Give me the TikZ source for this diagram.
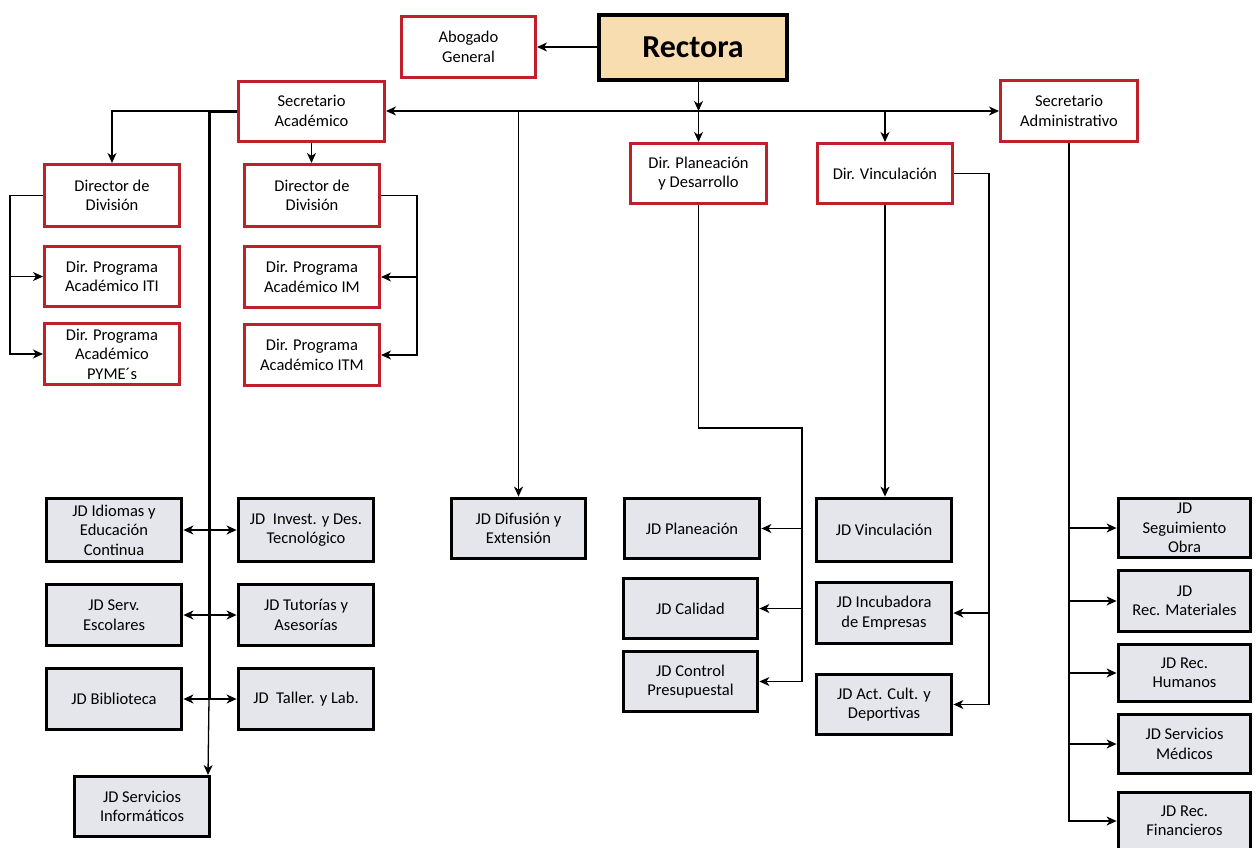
\documentclass[tikz,border=0pt]{standalone}
\usepackage{fontspec}
\setmainfont{Carlito}
\usetikzlibrary{arrows.meta}
\definecolor{redc}{HTML}{C0202C}
\definecolor{beige}{HTML}{F8DDB0}
\definecolor{grayc}{HTML}{E4E6EC}
\tikzset{
  base/.style={align=center, inner sep=1pt, font=\fontsize{16.5}{19.5}\selectfont},
  redbox/.style={base, draw=redc, line width=3pt, fill=white},
  jdbox/.style={base, draw=black, line width=3.8pt, fill=grayc},
  topbox/.style={draw=black, line width=4pt, fill=beige, font=\fontsize{32}{36}\selectfont\bfseries},
  conn/.style={line width=1.3pt, -{Stealth[length=10pt,width=9pt,inset=3pt]}},
  connb/.style={line width=1.3pt, {Stealth[length=10pt,width=9pt,inset=3pt]}-{Stealth[length=10pt,width=9pt,inset=3pt]}},
  spine/.style={line width=3pt},
}
\begin{document}
\begin{tikzpicture}[x=1pt,y=-1pt]
\useasboundingbox (0,0) rectangle (1256,847);
% top
\node[topbox, minimum width=188, minimum height=65] (rect) at (693,47) {Rectora};
\node[redbox, minimum width=134, minimum height=61] (abog) at (468.5,47) {Abogado\\General};
\node[redbox, minimum width=146, minimum height=60] (secacad) at (311.5,111) {Secretario\\Académico};
\node[redbox, minimum width=137, minimum height=61] (secadm) at (1069,111) {Secretario\\Administrativo};
\node[redbox, minimum width=136, minimum height=60] (dirplan) at (698.5,173.5) {Dir. Planeación\\y Desarrollo};
\node[redbox, minimum width=135, minimum height=60] (dirvinc) at (885,173.5) {Dir. Vinculación};
% academic left
\node[redbox, minimum width=135, minimum height=62] (ddd1) at (112,195.5) {Director de\\División};
\node[redbox, minimum width=135, minimum height=62] (ddd2) at (312,195.5) {Director de\\División};
\node[redbox, minimum width=135, minimum height=60] (iti) at (112,276.5) {Dir. Programa\\Académico ITI};
\node[redbox, minimum width=135, minimum height=61] (pyme) at (112,354) {Dir. Programa\\Académico\\PYME´s};
\node[redbox, minimum width=135, minimum height=61] (im) at (312,277) {Dir. Programa\\Académico IM};
\node[redbox, minimum width=135, minimum height=61] (itm) at (312,355) {Dir. Programa\\Académico ITM};
% JD academic
\node[jdbox, minimum width=135, minimum height=63] (idiomas) at (114,530) {JD Idiomas y\\Educación\\Continua};
\node[jdbox, minimum width=135, minimum height=63] (invest) at (306,530) {JD~ Invest. y Des.\\Tecnológico};
\node[jdbox, minimum width=135, minimum height=61] (serv) at (114,615) {JD Serv.\\Escolares};
\node[jdbox, minimum width=135, minimum height=61] (tutor) at (306,615) {JD Tutorías y\\Asesorías};
\node[jdbox, minimum width=135, minimum height=61] (biblio) at (114,699) {JD Biblioteca};
\node[jdbox, minimum width=135, minimum height=61] (taller) at (306,699) {JD~ Taller. y Lab.};
\node[jdbox, minimum width=135, minimum height=60] (servinf) at (142,806.5) {JD Servicios\\Informáticos};
% middle
\node[jdbox, minimum width=134, minimum height=60] (difusion) at (518.5,528.5) {JD Difusión y\\Extensión};
\node[jdbox, minimum width=135, minimum height=60] (jdplan) at (692,528.5) {JD Planeación};
\node[jdbox, minimum width=134, minimum height=60] (calidad) at (690.5,608.5) {JD Calidad};
\node[jdbox, minimum width=134, minimum height=60] (control) at (690.5,681.5) {JD Control\\Presupuestal};
\node[jdbox, minimum width=135, minimum height=63] (jdvinc) at (884,530) {JD Vinculación};
\node[jdbox, minimum width=135, minimum height=61] (incub) at (884,613) {JD Incubadora\\de Empresas};
\node[jdbox, minimum width=135, minimum height=60] (actcult) at (884,704.5) {JD Act. Cult. y\\Deportivas};
% right
\node[jdbox, minimum width=132, minimum height=59] (seg) at (1184.5,528) {JD\\Seguimiento\\Obra};
\node[jdbox, minimum width=132, minimum height=61] (mat) at (1184.5,601) {JD\\Rec. Materiales};
\node[jdbox, minimum width=132, minimum height=57] (hum) at (1184.5,673) {JD Rec.\\Humanos};
\node[jdbox, minimum width=132, minimum height=59] (med) at (1184.5,744) {JD Servicios\\Médicos};
\node[jdbox, minimum width=132, minimum height=57] (fin) at (1184.5,821) {JD Rec.\\Financieros};

% coordinates
\coordinate (spinetop) at (209,111);
\coordinate (spinebot) at (209,699);
\coordinate (infin) at (208,775);
\coordinate (pj) at (802,428);
\coordinate (vj) at (989,173.5);

% connectors
\draw[conn] (rect.west) -- (abog.east);
\draw[connb] (secacad.east) -- (secadm.west);
\draw[conn] (dirplan.north |- rect.south) -- (dirplan.north |- secadm.west);
\draw[conn] (dirplan.north |- secadm.west) -- (dirplan.north);
\draw[conn] (dirvinc.north |- secadm.west) -- (dirvinc.north);
\draw[conn] (difusion.north |- secadm.west) -- (difusion.north);
\draw[conn] (secacad.west) -| (ddd1.north);
\draw[spine] (secacad.west) -- (spinetop) -- (spinebot);
\draw[conn] (spinebot) -- (infin);
\draw[conn] (secacad.south) -- (secacad.south |- ddd2.north);
\draw[conn] (ddd1.west) -- ++(-33,0) |- (iti.west);
\draw[conn] (ddd1.west) -- ++(-33,0) |- (pyme.west);
\draw[conn] (ddd2.east) -- ++(36,0) |- (im.east);
\draw[conn] (ddd2.east) -- ++(36,0) |- (itm.east);
\draw[connb] (idiomas.east) -- (invest.west);
\draw[connb] (serv.east) -- (tutor.west);
\draw[connb] (biblio.east) -- (taller.west);
\draw[conn] (dirplan.south) |- (pj) |- (control.east);
\draw[conn] (pj |- jdplan.east) -- (jdplan.east);
\draw[conn] (pj |- calidad.east) -- (calidad.east);
\draw[conn] (dirvinc.south) -- (dirvinc.south |- jdvinc.north);
\draw[conn] (dirvinc.east) -- (vj) |- (actcult.east);
\draw[conn] (vj |- incub.east) -- (incub.east);
\draw[conn] (secadm.south) |- (fin.west);
\draw[conn] (secadm.south |- seg.west) -- (seg.west);
\draw[conn] (secadm.south |- mat.west) -- (mat.west);
\draw[conn] (secadm.south |- hum.west) -- (hum.west);
\draw[conn] (secadm.south |- med.west) -- (med.west);
\end{tikzpicture}
\end{document}
